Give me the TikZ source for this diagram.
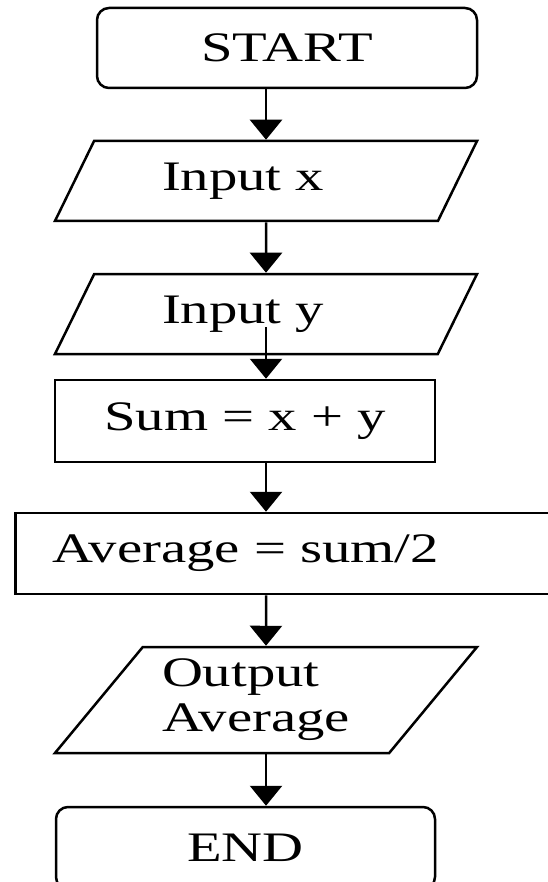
\documentclass[tikz,border=0pt]{standalone}
\usepackage{fontspec}
\setmainfont{Liberation Serif}[FakeStretch=1.35]
\usepackage{tikz}
\usetikzlibrary{positioning,arrows.meta,shapes.geometric,calc}
\tikzset{
  fbox/.style={draw, line width=2.5pt, inner sep=0pt, align=center,
               font=\fontsize{42}{45}\selectfont},
  term/.style={fbox, rectangle, rounded corners=12pt},
  proc/.style={fbox, rectangle},
  io/.style={fbox, trapezium, trapezium left angle=43, trapezium right angle=137,
             trapezium stretches body, minimum width=422pt,
             text width=208pt, align=left},
  ar/.style={-{Triangle[length=20pt,width=32pt]}, line width=2.5pt},
}
\begin{document}
\begin{tikzpicture}[x=1pt,y=-1pt]
  \useasboundingbox (0,0) rectangle (547,882);
  \node[term, minimum width=380pt, minimum height=80pt] (start) at (287,48) {START};
  \node[io, minimum height=80pt] (inx) at (266,181) {Input x};
  \node[io, minimum height=80pt] (iny) at (266,314) {Input y};
  \node[proc, minimum width=380pt, minimum height=82pt] (sum) at (245,421) {Sum = x + y};
  \node[proc, anchor=west, minimum height=81pt, text width=472pt, align=left,
        inner xsep=37pt] (avg) at (14,553.5) {Average = sum/2};
  \node[io, minimum height=106pt] (outav) at (266,700) {Output\\Average};
  \node[term, minimum width=379pt, minimum height=82pt] (fin) at (245.5,848) {END};
  \draw[ar] (start.south -| inx.north) -- (inx.north);
  \draw[ar] (inx.south) -- (iny.north);
  \draw[ar] ([yshift=28pt]iny.south) -- (iny.south |- sum.north);
  \draw[ar] (sum.south -| inx.south) -- (inx.south |- avg.north);
  \draw[ar] (avg.south -| inx.south) -- (outav.north);
  \draw[ar] (outav.south) -- (outav.south |- fin.north);
\end{tikzpicture}
\end{document}
